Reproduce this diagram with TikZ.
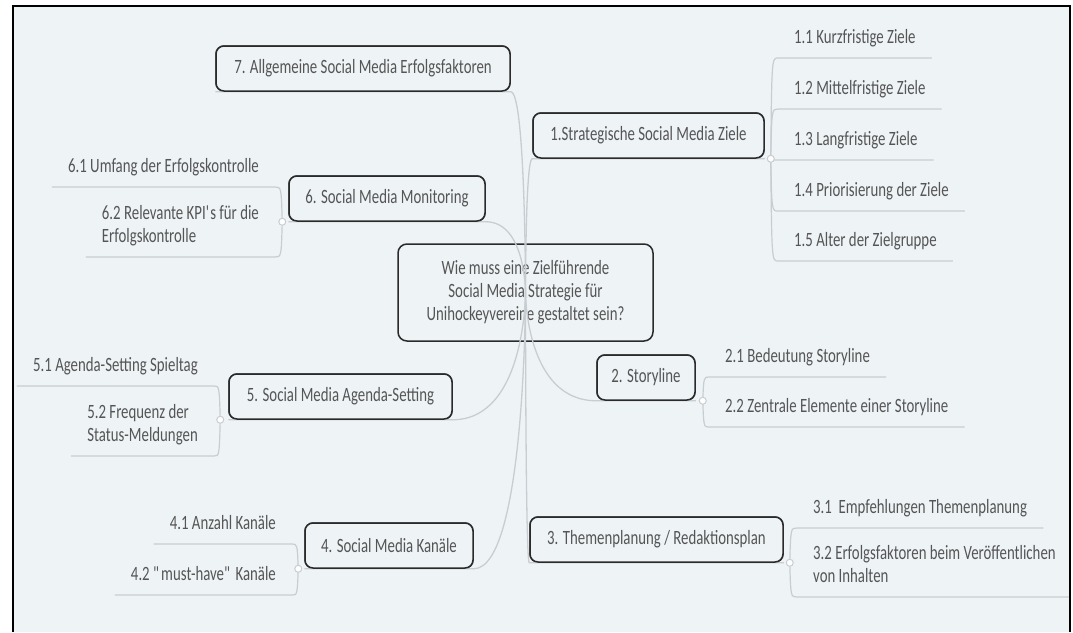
\documentclass[tikz,border=0pt]{standalone}
\usepackage{fontspec}
\setmainfont{Carlito}[FakeStretch=0.73]
\usetikzlibrary{calc}
\definecolor{paper}{HTML}{EEF3F6}
\definecolor{ink}{HTML}{555555}
\definecolor{edge}{HTML}{2A2A2A}
\definecolor{wire}{HTML}{C8CDD1}
\newcommand\mapfont{\fontsize{20.3}{23}\selectfont}
\newcommand\twoline[1]{\begin{tabular}[b]{@{}l@{}}#1\end{tabular}}

\begin{document}
\begin{tikzpicture}[x=1pt,y=-1pt,
  topic/.style={draw=edge, line width=1.5pt, rounded corners=8pt, fill=paper,
    text=ink, minimum height=45pt, inner sep=0pt, font=\mapfont},
  leaf/.style={text=ink, inner sep=0pt, font=\mapfont},
  branch/.style={draw=wire, line width=1.3pt},
  twig/.style={draw=wire, line width=1.2pt},
  knob/.style={circle, draw=wire, fill=white, line width=1pt,
    minimum size=7pt, inner sep=0pt}]

\useasboundingbox (0,0) rectangle (1073,632);
\fill[white] (0,0) rectangle (1073,632);
\fill[paper] (13,6) rectangle (1070,632);

\begin{scope}
\clip (13,6) rectangle (1070,632);

% central question
\node[draw=edge, line width=1.5pt, rounded corners=9pt, text=ink, font=\mapfont,
  align=center, minimum width=255pt, minimum height=97pt, inner sep=0pt]
  (q) at (525.5,292.5) {Wie muss eine Zielführende\\Social Media Strategie für\\Unihockeyvereine gestaltet sein?};

% main topics
\path
  (363,68.5)   node[topic, minimum width=294pt] (n7) {7. Allgemeine Social Media Erfolgsfaktoren}
  (648.5,135.5) node[topic, minimum width=231pt] (n1) {1.Strategische Social Media Ziele}
  (387,198.5)  node[topic, minimum width=196pt] (n6) {6. Social Media Monitoring}
  (646,377.5)  node[topic, minimum width=98pt]  (n2) {2. Storyline}
  (340.5,396.5) node[topic, minimum width=223pt] (n5) {5. Social Media Agenda-Setting}
  (389,545.5)  node[topic, minimum width=168pt] (n4) {4. Social Media Kanäle}
  (656.5,539.5) node[topic, minimum width=253pt] (n3) {3. Themenplanung / Redaktionsplan};

% branches from the question to the main topics
\foreach \t in {n7,n6,n5,n4}
  \draw[branch] (\t.south west) -- (\t.south east)
    .. controls (\t.south east -| q.center) and (q.center) .. (q.center);
\foreach \t in {n1,n2,n3}
  \draw[branch] (\t.south east) -- (\t.south west)
    .. controls (\t.south west -| q.center) and (q.center) .. (q.center);

% main topics again, over their branches
\path
  (363,68.5)   node[topic, minimum width=294pt] {7. Allgemeine Social Media Erfolgsfaktoren}
  (648.5,135.5) node[topic, minimum width=231pt] {1.Strategische Social Media Ziele}
  (387,198.5)  node[topic, minimum width=196pt] {6. Social Media Monitoring}
  (646,377.5)  node[topic, minimum width=98pt]  {2. Storyline}
  (340.5,396.5) node[topic, minimum width=223pt] {5. Social Media Agenda-Setting}
  (389,545.5)  node[topic, minimum width=168pt] {4. Social Media Kanäle}
  (656.5,539.5) node[topic, minimum width=253pt] {3. Themenplanung / Redaktionsplan};

% sub topics, right side
\node[leaf, anchor=base west] (s11) at (794,43.5)  {1.1 Kurzfristige Ziele};
\node[leaf, anchor=base west] (s12) at (794,94.5)  {1.2 Mittelfristige Ziele};
\node[leaf, anchor=base west] (s13) at (794,145.5) {1.3 Langfristige Ziele};
\node[leaf, anchor=base west] (s14) at (794,196.5) {1.4 Priorisierung der Ziele};
\node[leaf, anchor=base west] (s15) at (794,246.5) {1.5 Alter der Zielgruppe};
\node[leaf, anchor=base west] (s21) at (725,362.5) {2.1 Bedeutung Storyline};
\node[leaf, anchor=base west] (s22) at (725,412.5) {2.2 Zentrale Elemente einer Storyline};
\node[leaf, anchor=base west] (s31) at (813,513.5) {3.1\ \ Empfehlungen Themenplanung};
\node[leaf, anchor=base west] (s32) at (813,582.5) {\twoline{3.2 Erfolgsfaktoren beim Veröffentlichen\\von Inhalten}};

% sub topics, left side
\node[leaf, anchor=base east] (s61) at (259,172.5) {6.1 Umfang der Erfolgskontrolle};
\node[leaf, anchor=base east] (s62) at (259,242.5) {\twoline{6.2 Relevante KPI\textquotesingle s für die\\Erfolgskontrolle}};
\node[leaf, anchor=base east] (s51) at (198,371.5) {5.1 Agenda-Setting Spieltag};
\node[leaf, anchor=base east] (s52) at (198,441.5) {\twoline{5.2 Frequenz der\\Status-Meldungen}};
\node[leaf, anchor=base east] (s41) at (276,529.5) {4.1 Anzahl Kanäle};
\node[leaf, anchor=base east] (s42) at (276,580.5) {4.2 \textquotedbl must-have\textquotedbl\ Kanäle};

% junction points beside the topic corners
\coordinate (c1) at ($(n1.south east)+(6,0)$);
\coordinate (c2) at ($(n2.south east)+(7,0)$);
\coordinate (c3) at ($(n3.south east)+(6,0)$);
\coordinate (c6) at ($(n6.south west)+(-6,0)$);
\coordinate (c5) at ($(n5.south west)+(-8,0)$);
\coordinate (c4) at ($(n4.south west)+(-6,0)$);

% twigs to the right-hand sub topics
\foreach \c/\s in {c1/s11,c1/s12,c1/s13,c1/s14,c1/s15,c2/s21,c2/s22,c3/s31,c3/s32}
  \draw[twig] (\c) .. controls ($(\c |- \s.base)+(1,14.5)$) ..
    ($(\s.base west)+(-16,14.5)$) -- ($(\s.base east)+(16,14.5)$);
% twigs to the left-hand sub topics
\foreach \c/\s in {c6/s61,c6/s62,c5/s51,c5/s52,c4/s41,c4/s42}
  \draw[twig] (\c) .. controls ($(\c |- \s.base)+(-1,14.5)$) ..
    ($(\s.base east)+(16,14.5)$) -- ($(\s.base west)+(-16,14.5)$);

\foreach \c in {c1,c2,c3,c6,c5,c4}
  \node[knob] (k\c) at (\c) {};
\end{scope}

% frame
\draw[black, line width=2.4pt] (13.2,632) -- (13.2,6.2) -- (1070.2,6.2) -- (1070.2,632);
\end{tikzpicture}
\end{document}
